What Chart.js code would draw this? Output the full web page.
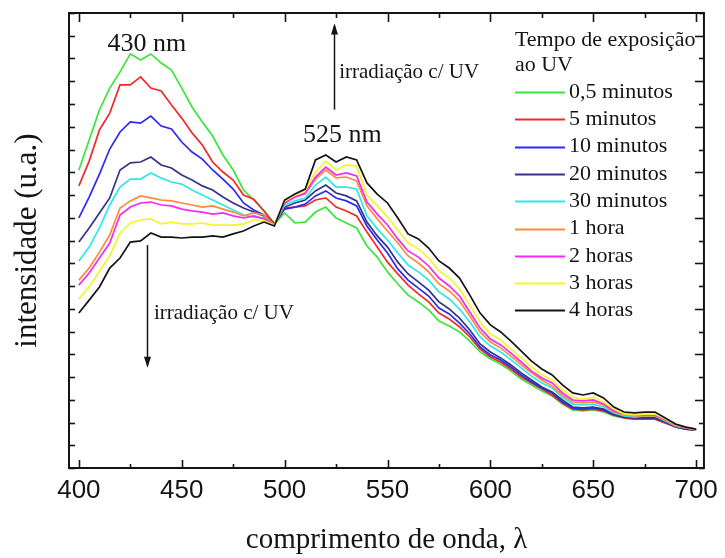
<!DOCTYPE html>
<html>
<head>
<meta charset="utf-8">
<script src="https://cdn.jsdelivr.net/npm/chart.js@4/dist/chart.umd.min.js"></script>
<style>
  html, body { margin: 0; padding: 0; background: #fff; }
  #wrap { width: 725px; height: 558px; }
</style>
</head>
<body>
<div id="wrap"><canvas id="c" width="725" height="558"></canvas></div>
<script>
// Wavelength grid (nm)
const wavelengths = [
  400, 405, 410, 415, 420, 425, 430, 435, 440, 445, 450,
  455, 460, 465, 470, 475, 480, 485, 490, 495, 500,
  505, 510, 515, 520, 525, 530, 535, 540, 545, 550,
  555, 560, 565, 570, 575, 580, 585, 590, 595, 600,
  605, 610, 615, 620, 625, 630, 635, 640, 645, 650,
  655, 660, 665, 670, 675, 680, 685, 690, 695, 700
];

// Emission intensity (arbitrary units) for each UV exposure time
const exp05min = [13.10,14.42,15.74,16.70,17.41,18.20,17.93,18.20,17.80,17.49,16.70,
  15.87,15.21,14.59,13.76,13.10,12.22,11.78,11.30,10.73,11.21,
  10.77,10.81,11.25,11.47,10.99,10.77,10.55,9.76,9.27,8.62,
  8.09,7.60,7.30,6.95,6.46,6.24,5.98,5.58,5.10,4.79,
  4.57,4.26,3.91,3.65,3.38,3.16,2.81,2.55,2.51,2.55,
  2.46,2.29,2.20,2.15,2.15,2.15,1.98,1.80,1.71,1.67];
const exp5min = [12.40,13.49,14.86,15.60,16.84,16.84,17.19,16.70,16.57,15.96,15.38,
  14.73,14.20,13.45,13.01,12.66,12.00,11.82,11.30,10.73,11.43,
  11.47,11.52,11.78,11.87,11.47,11.30,11.08,10.37,9.71,9.05,
  8.53,8.04,7.65,7.30,6.81,6.55,6.20,5.76,5.23,4.88,
  4.66,4.35,4.00,3.74,3.47,3.21,2.86,2.59,2.55,2.59,
  2.51,2.33,2.20,2.15,2.15,2.15,1.98,1.80,1.71,1.67];
const exp10min = [10.99,11.91,12.92,14.02,14.77,15.21,15.16,15.47,15.03,14.90,14.33,
  13.89,13.58,13.10,12.70,12.26,11.65,11.34,11.12,10.73,11.38,
  11.47,11.60,11.96,12.18,11.87,11.74,11.52,10.64,10.02,9.45,
  8.75,8.26,7.91,7.56,7.03,6.77,6.37,5.89,5.32,4.97,
  4.75,4.44,4.09,3.78,3.52,3.30,2.90,2.64,2.59,2.64,
  2.55,2.33,2.24,2.20,2.20,2.20,2.02,1.80,1.71,1.67];
const exp20min = [9.93,10.55,11.21,11.87,13.10,13.41,13.45,13.67,13.32,13.19,12.88,
  12.66,12.40,12.22,11.91,11.65,11.43,11.25,11.08,10.68,11.47,
  11.65,11.78,12.18,12.44,12.09,11.96,11.74,10.81,10.20,9.71,
  9.05,8.53,8.18,7.82,7.30,6.99,6.59,6.07,5.45,5.10,
  4.84,4.53,4.18,3.87,3.56,3.34,2.99,2.68,2.64,2.68,
  2.59,2.37,2.24,2.20,2.20,2.20,2.02,1.85,1.71,1.67];
const exp30min = [9.10,9.71,10.55,11.56,12.35,12.70,12.70,12.97,12.75,12.57,12.48,
  12.22,12.00,11.78,11.56,11.34,11.12,11.03,10.99,10.68,11.56,
  11.74,11.87,12.44,12.79,12.35,12.35,12.26,11.08,10.51,10.02,
  9.45,8.92,8.62,8.26,7.74,7.43,6.99,6.42,5.76,5.36,
  5.10,4.75,4.40,4.04,3.74,3.52,3.12,2.81,2.77,2.81,
  2.68,2.42,2.29,2.24,2.29,2.29,2.07,1.85,1.76,1.67];
const exp1h = [8.26,8.79,9.49,10.24,11.43,11.74,11.96,11.87,11.78,11.74,11.65,
  11.56,11.47,11.52,11.38,11.25,11.08,11.21,11.12,10.68,11.65,
  11.91,12.04,12.70,13.10,12.75,12.79,12.62,11.52,10.95,10.42,
  9.89,9.32,9.01,8.62,8.09,7.78,7.34,6.68,5.98,5.54,
  5.27,4.92,4.53,4.18,3.87,3.60,3.21,2.90,2.86,2.90,
  2.77,2.46,2.33,2.29,2.29,2.29,2.11,1.85,1.76,1.67];
const exp2h = [8.04,8.57,9.23,9.89,11.12,11.47,11.65,11.69,11.56,11.52,11.38,
  11.30,11.25,11.16,11.21,11.08,10.99,11.08,10.95,10.68,11.65,
  11.91,12.09,12.79,13.23,12.88,12.97,12.84,11.69,11.16,10.68,
  10.07,9.54,9.27,8.88,8.35,8.00,7.56,6.86,6.15,5.67,
  5.41,5.05,4.66,4.26,3.96,3.74,3.30,2.99,2.95,2.99,
  2.81,2.51,2.37,2.33,2.33,2.33,2.11,1.89,1.76,1.71];
const exp3h = [7.43,7.96,8.66,9.32,10.33,10.77,10.90,10.95,10.73,10.81,10.73,
  10.73,10.77,10.68,10.68,10.68,10.73,10.90,10.86,10.68,11.74,
  12.00,12.22,13.01,13.49,13.10,13.32,13.27,12.00,11.52,11.03,
  10.46,9.89,9.63,9.23,8.66,8.35,7.87,7.16,6.42,5.89,
  5.63,5.23,4.84,4.44,4.09,3.87,3.43,3.12,3.03,3.12,
  2.90,2.59,2.37,2.33,2.37,2.37,2.15,1.89,1.80,1.71];
const exp4h = [6.81,7.38,7.96,8.79,9.23,9.93,9.98,10.33,10.15,10.15,10.11,
  10.15,10.15,10.20,10.15,10.29,10.42,10.64,10.81,10.64,11.78,
  12.04,12.26,13.54,13.76,13.45,13.67,13.54,12.53,12.04,11.65,
  10.99,10.29,10.07,9.67,9.10,8.79,8.35,7.60,6.81,6.29,
  5.98,5.58,5.14,4.70,4.35,4.09,3.65,3.30,3.21,3.30,
  3.08,2.68,2.46,2.42,2.46,2.46,2.20,1.93,1.80,1.71];

const seriesLabels = ['0,5 minutos', '5 minutos', '10 minutos', '20 minutos', '30 minutos',
                      '1 hora', '2 horas', '3 horas', '4 horas'];
const seriesValues = [exp05min, exp5min, exp10min, exp20min, exp30min, exp1h, exp2h, exp3h, exp4h];
const seriesColors = ['#3be63b', '#f02a2a', '#2a2af0', '#33338a', '#2ee8e8',
                      '#fa8c3c', '#f52af5', '#f5f52a', '#141414'];

// Axis ticks
const xTicks = [400, 425, 450, 475, 500, 525, 550, 575, 600, 625, 650, 675, 700];
const yTicks = [0, 1, 2, 3, 4, 5, 6, 7, 8, 9, 10, 11, 12, 13, 14, 15, 16, 17, 18, 19, 20];

const SERIF = '"Liberation Serif", "Times New Roman", serif';
const INK = '#141414';

function seg(ctx, x1, y1, x2, y2) {
  ctx.beginPath();
  ctx.moveTo(x1, y1);
  ctx.lineTo(x2, y2);
  ctx.stroke();
}

// Frame around the plot with inward tick marks on all four sides
const framePlugin = {
  id: 'frame',
  afterDraw(chart) {
    const { ctx, chartArea: a, scales: { x, y } } = chart;
    ctx.save();
    ctx.strokeStyle = INK;
    ctx.lineWidth = 2;
    ctx.strokeRect(a.left, a.top, a.right - a.left, a.bottom - a.top);
    ctx.lineWidth = 1.6;
    xTicks.forEach(v => {
      const px = Math.round(x.getPixelForValue(v)) + 0.5;
      const major = v % 50 === 0;
      seg(ctx, px, a.bottom, px, a.bottom - (major ? 8 : 4));
      seg(ctx, px, a.top, px, a.top + (major ? 9 : 5));
    });
    yTicks.forEach(v => {
      const py = Math.round(y.getPixelForValue(v)) + 0.5;
      seg(ctx, a.left, py, a.left + 6, py);
      seg(ctx, a.right, py, a.right - (v % 2 === 1 ? 9 : 5), py);
    });
    ctx.restore();
  }
};

function arrow(ctx, x, y1, y2) {
  // shaft from y1 to y2, head at y2
  ctx.lineWidth = 1.5;
  seg(ctx, x, y1, x, y2);
  const dir = y2 > y1 ? 1 : -1;
  ctx.beginPath();
  ctx.moveTo(x, y2 + dir * 2);
  ctx.lineTo(x - 3.5, y2 - dir * 9);
  ctx.lineTo(x + 3.5, y2 - dir * 9);
  ctx.closePath();
  ctx.fill();
}

// Peak labels and irradiation arrows
const notesPlugin = {
  id: 'notes',
  afterDraw(chart) {
    const { ctx, scales: { x, y } } = chart;
    ctx.save();
    ctx.fillStyle = INK;
    ctx.strokeStyle = INK;
    ctx.textBaseline = 'middle';

    ctx.font = '26px ' + SERIF;
    ctx.textAlign = 'center';
    ctx.fillText('430 nm', x.getPixelForValue(433), y.getPixelForValue(18.64));
    ctx.fillText('525 nm', x.getPixelForValue(528), y.getPixelForValue(14.64));

    ctx.font = '21px ' + SERIF;
    ctx.textAlign = 'left';
    ctx.fillText('irradiação c/ UV', x.getPixelForValue(526.5), y.getPixelForValue(17.4));
    ctx.fillText('irradiação c/ UV', x.getPixelForValue(436.5), y.getPixelForValue(6.8));

    arrow(ctx, Math.round(x.getPixelForValue(523.8)) + 0.5, y.getPixelForValue(15.75), y.getPixelForValue(19.45));
    arrow(ctx, Math.round(x.getPixelForValue(433.2)) + 0.5, y.getPixelForValue(9.8), y.getPixelForValue(4.5));
    ctx.restore();
  }
};

// Legend with a two-line title, drawn inside the plot area
const legendPlugin = {
  id: 'expLegend',
  afterDraw(chart) {
    const { ctx, chartArea: a } = chart;
    const x0 = a.right - 189;
    ctx.save();
    ctx.fillStyle = INK;
    ctx.font = '22px ' + SERIF;
    ctx.textAlign = 'left';
    ctx.textBaseline = 'middle';
    ctx.fillText('Tempo de exposição', x0, a.top + 27);
    ctx.fillText('ao UV', x0, a.top + 52);
    chart.data.datasets.forEach((ds, i) => {
      const yy = a.top + 79 + i * 27.3;
      ctx.strokeStyle = ds.borderColor;
      ctx.lineWidth = 1.8;
      seg(ctx, x0, Math.round(yy) + 0.5, x0 + 50, Math.round(yy) + 0.5);
      ctx.fillStyle = INK;
      ctx.fillText(ds.label, x0 + 54, yy);
    });
    ctx.restore();
  }
};

const datasets = seriesValues.map((vals, i) => ({
  label: seriesLabels[i],
  data: wavelengths.map((w, j) => ({ x: w, y: vals[j] })),
  borderColor: seriesColors[i],
  backgroundColor: seriesColors[i],
  borderWidth: 1.7,
  pointRadius: 0,
  tension: 0,
  fill: false,
  order: seriesValues.length - i
}));

new Chart(document.getElementById('c'), {
  type: 'line',
  data: { datasets },
  options: {
    responsive: false,
    animation: false,
    devicePixelRatio: 1,
    layout: { padding: { top: 13, right: 14, left: 0, bottom: 0 } },
    plugins: { legend: { display: false }, tooltip: { enabled: false } },
    scales: {
      x: {
        type: 'linear',
        min: 395.2,
        max: 703.8,
        afterBuildTicks: s => { s.ticks = xTicks.map(v => ({ value: v })); },
        ticks: {
          callback: v => (v % 50 === 0 ? String(v) : ''),
          font: { family: '"Liberation Sans Narrow", "Arial Narrow", "Liberation Sans", sans-serif', size: 26 },
          color: INK,
          padding: 7,
          maxRotation: 0,
          autoSkip: false
        },
        grid: { display: false, drawTicks: false },
        border: { display: false },
        title: {
          display: true,
          text: 'comprimento de onda, λ',
          font: { family: SERIF, size: 29 },
          color: INK,
          padding: { top: 0, bottom: 0 }
        },
        afterFit: s => { s.height = 90; }
      },
      y: {
        type: 'linear',
        min: 0,
        max: 20,
        afterBuildTicks: s => { s.ticks = yTicks.map(v => ({ value: v })); },
        ticks: { display: false },
        grid: { display: false, drawTicks: false },
        border: { display: false },
        title: {
          display: true,
          text: 'intensidade (u.a.)',
          font: { family: SERIF, size: 31 },
          color: INK,
          padding: { top: 9, bottom: 0 }
        },
        afterFit: s => { s.width = 69; }
      }
    }
  },
  plugins: [framePlugin, notesPlugin, legendPlugin]
});
</script>
</body>
</html>
